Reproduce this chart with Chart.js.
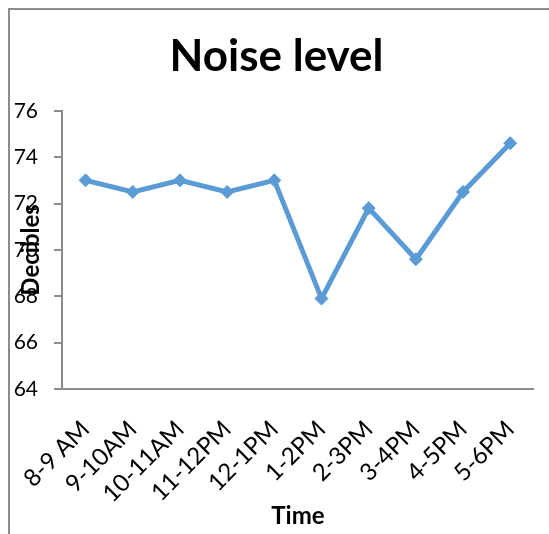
<!DOCTYPE html>
<html><head><meta charset="utf-8">
<script src="https://cdn.jsdelivr.net/npm/chart.js@4.4.0/dist/chart.umd.min.js"></script>
<style>
html,body{margin:0;padding:0;background:#fff;overflow:hidden}
#wrap{position:relative;width:549px;height:534px}
#frame{position:absolute;left:8px;top:8px;width:600px;height:600px;border-left:2px solid #8c8c8c;border-top:2px solid #8c8c8c;pointer-events:none}
canvas{display:block}
</style></head><body>
<div id="wrap"><canvas id="c" width="549" height="534"></canvas><div id="frame"></div></div>
<script>
const categories = ['8-9 AM', '9-10AM', '10-11AM', '11-12PM', '12-1PM', '1-2PM', '2-3PM', '3-4PM', '4-5PM', '5-6PM'];
const decibels = [73.0, 72.5, 73.0, 72.5, 73.0, 67.9, 71.8, 69.6, 72.5, 74.6];
const yTicks = [64, 66, 68, 70, 72, 74, 76];
const titleText = 'Noise level';
const xTitle = 'Time';
const yTitle = 'Decibles';

const axisGray = '#8c8c8c';
const lineBlue = '#5B9BD5';

new Chart(document.getElementById('c'), {
  type: 'line',
  data: {
    labels: categories,
    datasets: [{
      data: decibels,
      borderColor: lineBlue,
      backgroundColor: lineBlue,
      borderWidth: 5,
      pointStyle: 'rectRot',
      pointRadius: 6.5,
      pointBorderWidth: 1,
      tension: 0,
      fill: false
    }]
  },
  options: {
    responsive: false,
    animation: false,
    devicePixelRatio: 1,
    layout: { padding: { left: 11, right: 7, top: 0, bottom: 0 } },
    plugins: {
      legend: { display: false },
      tooltip: { enabled: false },
      title: {
        display: true,
        text: titleText,
        color: '#000',
        font: { family: 'Lato', size: 44, weight: 'bold' },
        padding: { top: 30, bottom: 28 }
      }
    },
    scales: {
      x: {
        offset: true,
        grid: { display: false },
        border: { display: true, color: axisGray, width: 2 },
        ticks: {
          color: '#000',
          font: { family: 'Lato', size: 24 },
          minRotation: 45,
          maxRotation: 45,
          autoSkip: false,
          padding: 18
        },
        title: {
          display: true,
          text: xTitle,
          color: '#000',
          font: { family: 'Lato', size: 24, weight: 'bold' },
          padding: { top: 0, bottom: 3 }
        },
        afterFit(s) { s.height = 145; }
      },
      y: {
        min: 64,
        max: 76,
        afterBuildTicks(s) { s.ticks = yTicks.map(v => ({ value: v })); },
        grid: { display: true, drawOnChartArea: false, drawTicks: true, tickLength: 8, color: axisGray, lineWidth: 2 },
        border: { display: true, color: axisGray, width: 2 },
        ticks: {
          color: '#000',
          font: { family: 'Lato', size: 21 },
          padding: 16
        },
        title: {
          display: true,
          text: yTitle,
          color: '#000',
          font: { family: 'Lato', size: 24, weight: 'bold' },
          padding: { top: 6, bottom: 0 }
        },
        afterFit(s) { s.width = 51; }
      }
    }
  }
});
</script>
</body></html>
